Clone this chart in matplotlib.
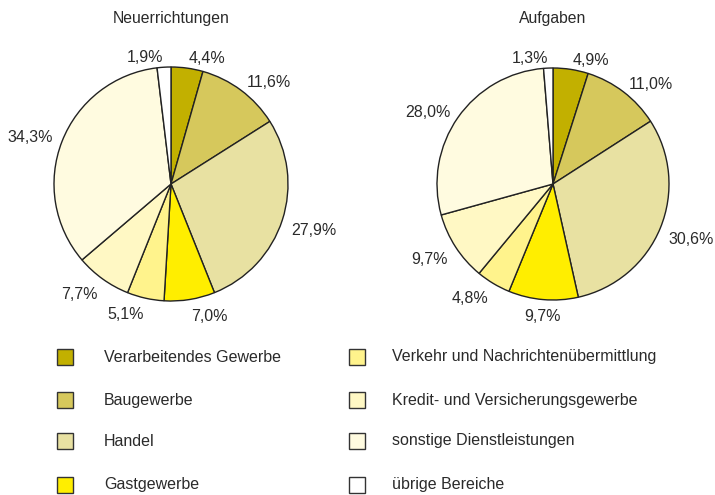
import matplotlib
matplotlib.use("Agg")
import matplotlib.pyplot as plt
from matplotlib.patches import Rectangle
import numpy as np

categories = ["Verarbeitendes Gewerbe", "Baugewerbe", "Handel", "Gastgewerbe",
              "Verkehr und Nachrichtenübermittlung", "Kredit- und Versicherungsgewerbe",
              "sonstige Dienstleistungen", "übrige Bereiche"]
neuerrichtungen = [4.4, 11.6, 27.9, 7.0, 5.1, 7.7, 34.3, 1.9]
aufgaben = [4.9, 11.0, 30.6, 9.7, 4.8, 9.7, 28.0, 1.3]
titles = ["Neuerrichtungen", "Aufgaben"]
colors = ["#C2B000", "#D6C85C", "#E8E1A2", "#FFEE00", "#FFF38C",
          "#FFF8C4", "#FFFBE0", "#FFFFFF"]

plt.rcParams['font.family'] = ['Liberation Sans', 'DejaVu Sans']
W, H = 715, 495
fig = plt.figure(figsize=(W / 100, H / 100), dpi=100)
TXT = "#2a2a2a"
FS = 11.5


def fx(x):
    return x / W


def fy(y):
    return 1 - y / H


def draw_pie(values, title, cx, cy, r):
    ax = fig.add_axes([fx(cx - r), fy(cy + r), 2 * r / W, 2 * r / H])
    wedges, _ = ax.pie(values, colors=colors, startangle=90, counterclock=False,
                       wedgeprops=dict(edgecolor="#222222", linewidth=1.0))
    ax.set_xlim(-1, 1)
    ax.set_ylim(-1, 1)
    ax.axis('off')
    for v, w in zip(values, wedges):
        mid = np.deg2rad((w.theta1 + w.theta2) / 2)
        c, s = np.cos(mid), np.sin(mid)
        lx, ly = 1.08 * c, 1.08 * s
        if s < 0 and abs(c) < 0.1:
            ha = "center"
        else:
            ha = "left" if c > 0 else "right"
        va = "top" if s < 0 else "center"
        txt = f"{v:.1f}".replace(".", ",") + "%"
        ax.text(lx, ly, txt, ha=ha, va=va, fontsize=FS, color=TXT)
    fig.text(fx(cx), fy(18), title, ha="center", va="center", fontsize=11.3,
             color=TXT)
    return wedges


draw_pie(neuerrichtungen, titles[0], 171, 184, 117)
draw_pie(aufgaben, titles[1], 553, 184, 116)

# legend
row_y = [357, 400, 441, 485]
col_x = [57, 349]
text_x = [104, 392]
sq = 16
for i, (cat, col) in enumerate(zip(categories, colors)):
    c = i // 4
    rr = i % 4
    x0 = col_x[c]
    y0 = row_y[rr]
    rect = Rectangle((fx(x0), fy(y0 + sq / 2)), sq / W, sq / H, transform=fig.transFigure,
                     facecolor=col, edgecolor="#333333", linewidth=1.0)
    fig.add_artist(rect)
    fig.text(fx(text_x[c]), fy(y0), cat, ha="left", va="center", fontsize=FS, color=TXT)

fig.savefig("out.png", dpi=100)
